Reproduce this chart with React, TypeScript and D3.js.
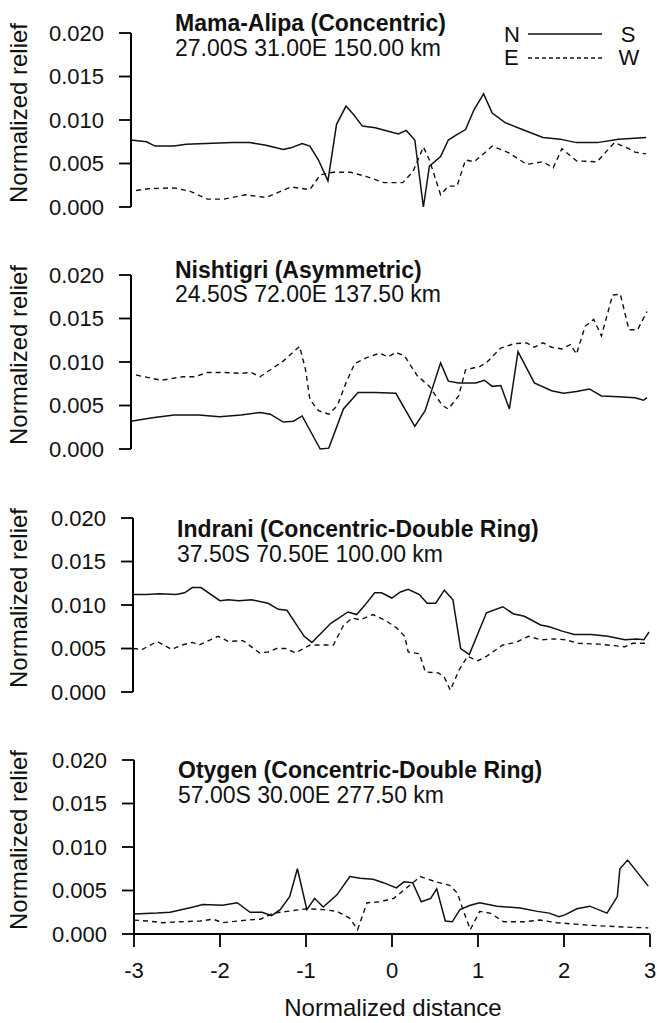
import React from 'react';
import * as d3 from 'd3';

// ---------- data ----------
const xTicks = [-3, -2, -1, 0, 1, 2, 3];
const yTicks = [0, 0.005, 0.01, 0.015, 0.02];
const yTickLabels = ['0.000', '0.005', '0.010', '0.015', '0.020'];

const titles = [
  'Mama-Alipa (Concentric)',
  'Nishtigri (Asymmetric)',
  'Indrani (Concentric-Double Ring)',
  'Otygen (Concentric-Double Ring)',
];
const subtitles = [
  '27.00S 31.00E 150.00 km',
  '24.50S 72.00E 137.50 km',
  '37.50S 70.50E 100.00 km',
  '57.00S 30.00E 277.50 km',
];

type P = [number, number];

const mamaNS: P[] = [
  [-3.0, 0.0077], [-2.82, 0.0075], [-2.72, 0.0070], [-2.5, 0.0070], [-2.36, 0.0072],
  [-1.82, 0.0074], [-1.62, 0.0074], [-1.43, 0.0071], [-1.23, 0.0066], [-1.14, 0.0068],
  [-1.01, 0.0073], [-0.92, 0.0070], [-0.82, 0.0054], [-0.71, 0.0030], [-0.61, 0.0095],
  [-0.5, 0.0116], [-0.41, 0.0106], [-0.31, 0.0093], [-0.16, 0.0091], [-0.01, 0.0087],
  [0.11, 0.0084], [0.2, 0.0088], [0.3, 0.0077], [0.4, 0.0], [0.47, 0.0047],
  [0.6, 0.0058], [0.69, 0.0077], [0.77, 0.0082], [0.89, 0.0089], [0.99, 0.0112],
  [1.1, 0.0130], [1.2, 0.0108], [1.35, 0.0097], [1.55, 0.0089], [1.79, 0.0080],
  [1.99, 0.0078], [2.18, 0.0074], [2.42, 0.0074], [2.67, 0.0078], [2.99, 0.0080],
];
const mamaEW: P[] = [
  [-2.94, 0.0019], [-2.8, 0.0021], [-2.5, 0.0022], [-2.31, 0.0018], [-2.11, 0.0009],
  [-1.92, 0.0009], [-1.67, 0.0014], [-1.43, 0.0011], [-1.14, 0.0023], [-0.92, 0.0020],
  [-0.8, 0.0037], [-0.65, 0.0040], [-0.45, 0.0040], [-0.26, 0.0035], [-0.06, 0.0028],
  [0.16, 0.0028], [0.28, 0.0041], [0.4, 0.0069], [0.47, 0.0054], [0.6, 0.0014],
  [0.69, 0.0024], [0.79, 0.0024], [0.89, 0.0054], [0.99, 0.0052], [1.11, 0.0062],
  [1.2, 0.0070], [1.4, 0.0062], [1.6, 0.0049], [1.79, 0.0052], [1.91, 0.0045],
  [2.01, 0.0067], [2.18, 0.0053], [2.42, 0.0052], [2.62, 0.0074], [2.77, 0.0068],
  [2.86, 0.0063], [2.99, 0.0061],
];

const nishNS: P[] = [
  [-3.0, 0.0032], [-2.75, 0.0036], [-2.5, 0.0039], [-2.21, 0.0039], [-1.97, 0.0037],
  [-1.72, 0.0039], [-1.5, 0.0042], [-1.38, 0.0040], [-1.23, 0.0031], [-1.11, 0.0032],
  [-1.01, 0.0038], [-0.8, 0.0], [-0.7, 0.0001], [-0.53, 0.0046], [-0.36, 0.0065],
  [-0.16, 0.0065], [0.08, 0.0064], [0.3, 0.0026], [0.42, 0.0044], [0.6, 0.0099],
  [0.69, 0.0078], [0.81, 0.0076], [1.01, 0.0076], [1.11, 0.0079], [1.2, 0.0072],
  [1.3, 0.0073], [1.4, 0.0046], [1.5, 0.0112], [1.69, 0.0076], [1.89, 0.0067],
  [2.03, 0.0064], [2.18, 0.0066], [2.33, 0.0069], [2.47, 0.0061], [2.67, 0.0060],
  [2.86, 0.0059], [2.96, 0.0056], [3.0, 0.0059],
];
const nishEW: P[] = [
  [-2.94, 0.0085], [-2.65, 0.0079], [-2.4, 0.0083], [-2.26, 0.0083], [-2.11, 0.0088],
  [-1.92, 0.0088], [-1.72, 0.0087], [-1.6, 0.0088], [-1.5, 0.0083], [-1.23, 0.0101],
  [-1.04, 0.0118], [-0.97, 0.0091], [-0.92, 0.0057], [-0.82, 0.0044], [-0.7, 0.0040],
  [-0.6, 0.0050], [-0.5, 0.0076], [-0.4, 0.0098], [-0.26, 0.0105], [-0.11, 0.0110],
  [-0.01, 0.0106], [0.08, 0.0111], [0.18, 0.0107], [0.33, 0.0084], [0.47, 0.0072],
  [0.62, 0.0050], [0.69, 0.0046], [0.81, 0.0061], [0.89, 0.0091], [1.06, 0.0095],
  [1.13, 0.0099], [1.3, 0.0116], [1.45, 0.0121], [1.6, 0.0122], [1.69, 0.0117],
  [1.79, 0.0122], [1.89, 0.0117], [2.01, 0.0115], [2.11, 0.0120], [2.18, 0.0109],
  [2.28, 0.0141], [2.38, 0.0149], [2.47, 0.0130], [2.6, 0.0177], [2.69, 0.0178],
  [2.79, 0.0137], [2.89, 0.0137], [3.0, 0.0158],
];

const indrNS: P[] = [
  [-3.0, 0.0112], [-2.84, 0.0112], [-2.7, 0.0113], [-2.5, 0.0112], [-2.4, 0.0114],
  [-2.31, 0.0120], [-2.21, 0.0120], [-1.99, 0.0105], [-1.89, 0.0106], [-1.77, 0.0105],
  [-1.62, 0.0106], [-1.43, 0.0102], [-1.31, 0.0095], [-1.21, 0.0094], [-1.01, 0.0064],
  [-0.92, 0.0057], [-0.7, 0.0079], [-0.5, 0.0092], [-0.4, 0.0089], [-0.31, 0.0099],
  [-0.19, 0.0114], [-0.11, 0.0114], [0.01, 0.0108], [0.11, 0.0115], [0.2, 0.0118],
  [0.33, 0.0112], [0.42, 0.0102], [0.52, 0.0102], [0.62, 0.0117], [0.72, 0.0106],
  [0.81, 0.0050], [0.91, 0.0043], [1.11, 0.0091], [1.3, 0.0098], [1.42, 0.0090],
  [1.55, 0.0087], [1.74, 0.0077], [1.84, 0.0075], [1.99, 0.0070], [2.13, 0.0066],
  [2.33, 0.0066], [2.52, 0.0064], [2.72, 0.0060], [2.86, 0.0061], [2.94, 0.0060],
  [3.0, 0.0069],
];
const indrEW: P[] = [
  [-3.0, 0.0050], [-2.89, 0.0049], [-2.72, 0.0058], [-2.55, 0.0049], [-2.43, 0.0054],
  [-2.31, 0.0057], [-2.23, 0.0054], [-2.01, 0.0064], [-1.89, 0.0058], [-1.72, 0.0059],
  [-1.53, 0.0045], [-1.43, 0.0046], [-1.33, 0.0050], [-1.23, 0.0050], [-1.11, 0.0045],
  [-0.94, 0.0054], [-0.84, 0.0054], [-0.67, 0.0054], [-0.55, 0.0077], [-0.45, 0.0085],
  [-0.36, 0.0083], [-0.21, 0.0089], [-0.06, 0.0082], [0.06, 0.0074], [0.16, 0.0064],
  [0.2, 0.0046], [0.33, 0.0044], [0.4, 0.0023], [0.55, 0.0022], [0.62, 0.0017],
  [0.69, 0.0002], [0.79, 0.0025], [0.89, 0.0041], [1.01, 0.0036], [1.11, 0.0041],
  [1.3, 0.0054], [1.45, 0.0057], [1.6, 0.0064], [1.74, 0.0060], [1.89, 0.0061],
  [2.03, 0.0060], [2.18, 0.0056], [2.42, 0.0055], [2.72, 0.0052], [2.81, 0.0056],
  [3.0, 0.0056],
];

const otygNS: P[] = [
  [-3.0, 0.0023], [-2.73, 0.0024], [-2.58, 0.0025], [-2.31, 0.0031], [-2.2, 0.0034],
  [-1.97, 0.0033], [-1.8, 0.0036], [-1.65, 0.0025], [-1.51, 0.0025], [-1.4, 0.0021],
  [-1.3, 0.0028], [-1.19, 0.0043], [-1.1, 0.0075], [-0.99, 0.0028], [-0.9, 0.0041],
  [-0.8, 0.0031], [-0.64, 0.0045], [-0.49, 0.0066], [-0.37, 0.0064], [-0.22, 0.0063],
  [-0.1, 0.0059], [0.05, 0.0053], [0.14, 0.0060], [0.24, 0.0059], [0.34, 0.0037],
  [0.45, 0.0041], [0.52, 0.0052], [0.62, 0.0015], [0.7, 0.0014], [0.79, 0.0028],
  [0.91, 0.0033], [1.02, 0.0036], [1.22, 0.0032], [1.49, 0.0030], [1.69, 0.0026],
  [1.83, 0.0024], [1.94, 0.0020], [2.01, 0.0022], [2.15, 0.0029], [2.3, 0.0032],
  [2.5, 0.0024], [2.62, 0.0043], [2.65, 0.0075], [2.74, 0.0085], [2.98, 0.0055],
];
const otygEW: P[] = [
  [-3.0, 0.0016], [-2.85, 0.0015], [-2.66, 0.0013], [-2.47, 0.0014], [-2.23, 0.0015],
  [-2.08, 0.0017], [-1.97, 0.0013], [-1.69, 0.0016], [-1.53, 0.0017], [-1.38, 0.0024],
  [-1.22, 0.0026], [-0.99, 0.0029], [-0.8, 0.0028], [-0.64, 0.0026], [-0.49, 0.0018],
  [-0.4, 0.0005], [-0.29, 0.0036], [-0.14, 0.0037], [0.02, 0.0041], [0.17, 0.0053],
  [0.33, 0.0066], [0.51, 0.0060], [0.67, 0.0056], [0.76, 0.0047], [0.84, 0.0024],
  [0.91, 0.0005], [1.02, 0.0026], [1.14, 0.0024], [1.3, 0.0014], [1.53, 0.0014],
  [1.72, 0.0016], [1.92, 0.0013], [2.3, 0.0010], [2.7, 0.0008], [2.98, 0.0007],
];

const nsSeries = [mamaNS, nishNS, indrNS, otygNS];
const ewSeries = [mamaEW, nishEW, indrEW, otygEW];

// ---------- layout ----------
const W = 657;
const H = 1023;
const FONT = '"Liberation Sans", Arial, Helvetica, sans-serif';
const panelLeft = [131, 131, 133, 134];
const panelZero = [207, 449, 692, 934];
const panelHeight = 174;
const panelWidth = 516;
const titleOff = [176, 171, 155, 156];
const subOff = [151, 147, 130, 131];

function Panel({ i }: { i: number }) {
  const L = panelLeft[i];
  const Z = panelZero[i];
  const x = d3.scaleLinear().domain([-3, 3]).range([L, L + panelWidth]);
  const y = d3.scaleLinear().domain([0, 0.02]).range([Z, Z - panelHeight]);
  const line = d3
    .line<P>()
    .x((d) => x(d[0]))
    .y((d) => y(d[1]));
  const isBottom = i === panelLeft.length - 1;
  return (
    <g>
      <line x1={L} x2={L} y1={y(0)} y2={y(0.02)} stroke="#000" strokeWidth={2} />
      {yTicks.map((t, k) => (
        <g key={k}>
          <line x1={L - 12} x2={L} y1={y(t)} y2={y(t)} stroke="#000" strokeWidth={1.8} />
          <text
            x={L - 27}
            y={y(t)}
            dy="0.36em"
            textAnchor="end"
            fontSize={22}
            fontFamily={FONT}
            fill="#111"
          >
            {yTickLabels[k]}
          </text>
        </g>
      ))}
      <text
        transform={`translate(${27},${Z - 94}) rotate(-90)`}
        textAnchor="middle"
        fontSize={24}
        fontFamily={FONT}
        fill="#111"
      >
        Normalized relief
      </text>
      <text x={L + 44} y={Z - titleOff[i]} fontSize={23} fontWeight="bold" fontFamily={FONT} fill="#111">
        {titles[i]}
      </text>
      <text x={L + 44} y={Z - subOff[i]} fontSize={23} fontFamily={FONT} fill="#111">
        {subtitles[i]}
      </text>
      <path d={line(ewSeries[i]) || ''} fill="none" stroke="#111" strokeWidth={1.4} strokeDasharray="5,4" />
      <path d={line(nsSeries[i]) || ''} fill="none" stroke="#111" strokeWidth={1.5} />
      {isBottom && (
        <g>
          <line x1={L} x2={L + panelWidth} y1={Z} y2={Z} stroke="#000" strokeWidth={2} />
          {xTicks.map((t) => (
            <g key={t}>
              <line x1={x(t)} x2={x(t)} y1={Z} y2={Z + 13} stroke="#000" strokeWidth={1.8} />
              <text x={x(t)} y={Z + 44} textAnchor="middle" fontSize={22} fontFamily={FONT} fill="#111">
                {t}
              </text>
            </g>
          ))}
          <text x={393} y={1016} textAnchor="middle" fontSize={24} fontFamily={FONT} fill="#111">
            Normalized distance
          </text>
        </g>
      )}
    </g>
  );
}

function Legend() {
  return (
    <g fontFamily={FONT} fontSize={22} fill="#111">
      <text x={504} y={42}>N</text>
      <line x1={528} x2={602} y1={34} y2={34} stroke="#111" strokeWidth={1.3} />
      <text x={628} y={42} textAnchor="middle">S</text>
      <text x={504} y={65}>E</text>
      <line x1={528} x2={602} y1={58} y2={58} stroke="#111" strokeWidth={1.3} strokeDasharray="4,3" />
      <text x={629} y={65} textAnchor="middle">W</text>
    </g>
  );
}

export default function App() {
  return (
    <svg
      width={W}
      height={H}
      viewBox={`0 0 ${W} ${H}`}
      style={{ position: 'absolute', left: 0, top: 0, background: '#fff' }}
    >
      <rect width={W} height={H} fill="#fff" />
      {panelLeft.map((_, i) => (
        <Panel key={i} i={i} />
      ))}
      <Legend />
    </svg>
  );
}
